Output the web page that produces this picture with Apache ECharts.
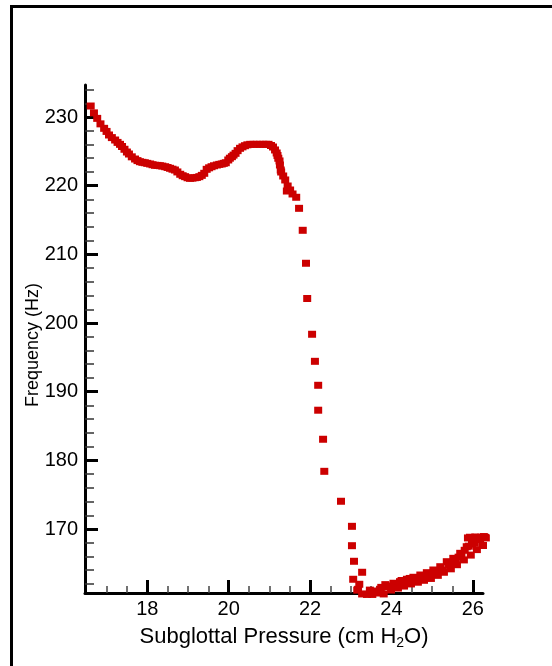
<!DOCTYPE html>
<html>
<head>
<meta charset="utf-8">
<script src="https://cdn.jsdelivr.net/npm/echarts@6/dist/echarts.min.js"></script>
<style>
html,body{margin:0;padding:0;background:#fff;}
#chart{width:552px;height:666px;}
</style>
</head>
<body>
<div id="chart"></div>
<script>
// Subglottal pressure (cm H2O)
var pressure = [16.61,16.69,16.77,16.85,16.94,17.00,17.06,17.13,17.21,17.27,17.33,17.38,17.44,17.50,17.55,17.62,17.70,17.76,17.82,17.88,17.94,18.00,18.07,18.13,18.19,18.25,18.31,18.37,18.44,18.50,18.56,18.62,18.68,18.74,18.81,18.87,18.93,18.99,19.05,19.11,19.17,19.22,19.28,19.34,19.40,19.46,19.52,19.58,19.64,19.71,19.77,19.83,19.88,19.93,19.99,20.03,20.08,20.12,20.17,20.22,20.28,20.34,20.40,20.46,20.53,20.61,20.69,20.77,20.85,20.92,20.98,21.04,21.09,21.14,21.18,21.20,21.22,21.25,21.26,21.28,21.29,21.34,21.39,21.45,21.43,21.51,21.57,21.66,21.73,21.82,21.90,21.93,22.05,22.12,22.20,22.20,22.32,22.35,22.76,23.03,23.03,23.08,23.28,23.06,23.21,23.18,23.16,23.28,23.40,23.53,23.65,23.47,23.60,23.72,23.75,23.81,23.85,23.89,23.95,23.99,24.05,24.10,24.16,24.21,24.25,24.31,24.35,24.38,24.45,24.48,24.54,24.60,24.65,24.71,24.75,24.80,24.87,24.90,24.97,25.00,25.03,25.10,25.14,25.20,25.25,25.29,25.36,25.40,25.46,25.50,25.52,25.58,25.61,25.65,25.69,25.72,25.78,25.80,25.85,25.88,25.90,25.93,25.95,25.98,26.00,26.02,26.05,26.06,26.10,26.12,26.18,26.20,26.25,26.27,26.30,26.32];
// Frequency (Hz)
var frequency = [231.6,230.6,229.8,229.0,228.35,227.9,227.38,227.0,226.65,226.3,226.02,225.7,225.3,224.9,224.61,224.2,223.88,223.65,223.49,223.4,223.34,223.25,223.16,223.05,222.97,222.95,222.91,222.85,222.76,222.65,222.53,222.4,222.28,222.0,221.66,221.45,221.31,221.15,221.07,221.1,221.16,221.2,221.31,221.5,221.8,222.38,222.6,222.76,222.9,223.01,223.1,223.16,223.25,223.34,223.74,224.0,224.22,224.45,224.71,225.1,225.44,225.65,225.82,225.95,226.02,226.02,226.02,226.02,226.02,226.02,226.02,225.85,225.63,225.2,224.76,224.4,223.99,223.6,223.01,222.28,221.99,221.41,220.83,219.95,219.22,219.37,218.79,218.31,216.7,213.5,208.7,203.57,198.36,194.42,190.93,187.3,183.07,178.4,174.04,170.39,167.57,165.3,163.7,162.68,161.95,161.22,161.1,160.54,160.47,160.47,160.68,161.1,160.97,161.22,161.5,160.54,161.9,161.6,161.7,161.11,162.1,162.0,161.4,162.33,162.5,161.69,162.2,162.68,162.8,162.0,162.97,162.7,162.25,163.3,163.0,162.53,163.64,163.3,162.8,163.5,164.03,163.9,163.25,164.51,164.0,163.7,165.24,164.7,164.2,165.0,165.73,165.4,164.8,165.9,166.46,166.3,165.5,166.9,167.42,168.7,167.5,168.8,166.2,167.8,168.6,168.15,168.0,168.84,167.0,168.5,168.5,168.8,167.6,168.9,168.79,168.7];

var xMajorTicks = [18, 20, 22, 24, 26];
var xMinorTicks = [17, 17.5, 18.5, 19, 19.5, 20.5, 21, 21.5, 22.5, 23, 23.5, 24.5, 25, 25.5];
var yMajorTicks = [170, 180, 190, 200, 210, 220, 230];
var yMinorTicks = [162, 164, 166, 168, 172, 174, 176, 178, 182, 184, 186, 188, 192, 194, 196, 198, 202, 204, 206, 208, 212, 214, 216, 218, 222, 224, 226, 228, 232, 234];

var xRange = [16.47, 26.25];
var yRange = [160.68, 234.66];

var points = pressure.map(function (p, i) { return [p, frequency[i]]; });

var FONT = '"Liberation Sans", Arial, sans-serif';

var chart = echarts.init(document.getElementById('chart'), null, {renderer: 'canvas'});
chart.setOption({
  animation: false,
  backgroundColor: '#fff',
  grid: {left: 85, right: 69, top: 85, bottom: 73, containLabel: false},
  graphic: [{
    type: 'rect',
    shape: {x: 11.5, y: 6.5, width: 700, height: 800},
    style: {fill: 'none', stroke: '#000', lineWidth: 3},
    silent: true
  }],
  xAxis: [{
    type: 'value', min: xRange[0], max: xRange[1], position: 'bottom',
    axisLine: {onZero: false, lineStyle: {color: '#000', width: 3}},
    axisTick: {inside: true, length: 13, customValues: xMajorTicks, lineStyle: {color: '#000', width: 3}},
    axisLabel: {customValues: xMajorTicks, color: '#000', fontSize: 20, fontFamily: FONT, margin: 6},
    splitLine: {show: false},
    name: 'Subglottal Pressure (cm H{sub|2}O)',
    nameLocation: 'middle', nameGap: 31, nameMoveOverlap: false,
    nameTextStyle: {color: '#000', fontSize: 22, fontFamily: FONT,
      rich: {sub: {fontSize: 14, fontFamily: FONT, color: '#000', padding: [12, 0, 0, 0]}}}
  }, {
    type: 'value', min: xRange[0], max: xRange[1], position: 'bottom',
    axisLine: {show: false, onZero: false},
    axisTick: {inside: true, length: 7, customValues: xMinorTicks, lineStyle: {color: '#444', width: 1.5}},
    axisLabel: {show: false},
    splitLine: {show: false}
  }],
  yAxis: [{
    type: 'value', min: yRange[0], max: yRange[1], position: 'left',
    axisLine: {onZero: false, lineStyle: {color: '#000', width: 3}},
    axisTick: {inside: true, length: 13, customValues: yMajorTicks, lineStyle: {color: '#000', width: 3}},
    axisLabel: {customValues: yMajorTicks, color: '#000', fontSize: 20, fontFamily: FONT, margin: 7},
    splitLine: {show: false},
    name: 'Frequency (Hz)', nameLocation: 'middle', nameGap: 43, nameRotate: 90, nameMoveOverlap: false,
    nameTextStyle: {color: '#000', fontSize: 18, fontFamily: FONT, padding: [0, 12, 0, 0]}
  }, {
    type: 'value', min: yRange[0], max: yRange[1], position: 'left',
    axisLine: {show: false, onZero: false},
    axisTick: {inside: true, length: 9, customValues: yMinorTicks, lineStyle: {color: '#333', width: 1.5}},
    axisLabel: {show: false},
    splitLine: {show: false}
  }],
  series: [{
    type: 'scatter',
    xAxisIndex: 0, yAxisIndex: 0,
    data: points,
    symbol: 'rect',
    symbolSize: [8, 7],
    clip: false,
    itemStyle: {color: '#cc0000', opacity: 1},
    emphasis: {disabled: true}
  }]
});
</script>
</body>
</html>
